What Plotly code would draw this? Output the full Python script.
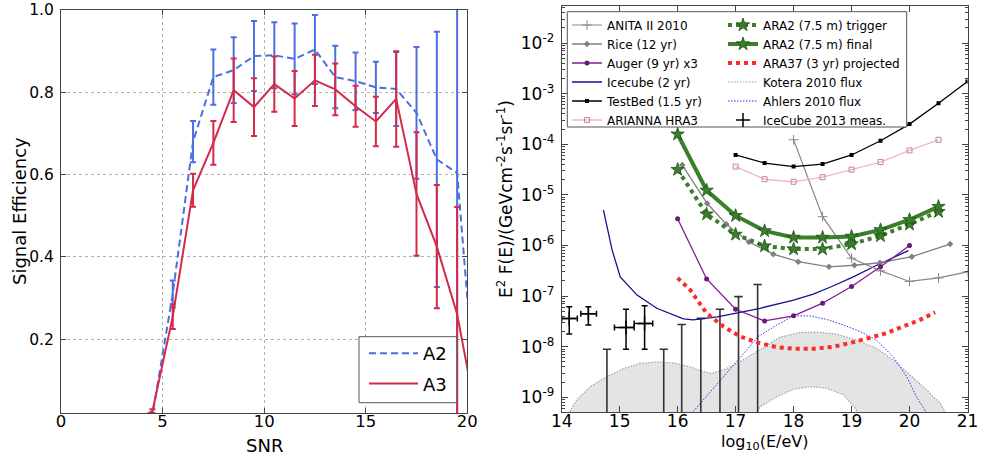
import numpy as np
import plotly.graph_objects as go

# ---------------- Left panel data ----------------
snr = [0.5, 1.5, 2.5, 3.5, 4.5, 5.5, 6.5, 7.5, 8.5, 9.5, 10.5, 11.5, 12.5,
       13.5, 14.5, 15.5, 16.5, 17.5, 18.5, 19.5, 20.5]
a2_eff = [0, 0, 0, 0, 0.015, 0.31, 0.68, 0.837, 0.854, 0.888, 0.89, 0.881, 0.904,
          0.837, 0.827, 0.812, 0.808, 0.75, 0.637, 0.604, 0.0]
a2_err = [0, 0, 0, 0, 0.005, 0.033, 0.05, 0.067, 0.08, 0.085, 0.08, 0.086, 0.084,
          0.076, 0.07, 0.062, 0.09, 0.16, 0.31, 0.6, 0]
a3_eff = [0, 0, 0, 0, 0.025, 0.255, 0.562, 0.677, 0.805, 0.764, 0.82, 0.785, 0.829,
          0.807, 0.766, 0.729, 0.784, 0.553, 0.425, 0.261, 0.0]
a3_err = [0, 0, 0, 0, 0.005, 0.03, 0.04, 0.053, 0.077, 0.07, 0.067, 0.067, 0.062,
          0.063, 0.05, 0.06, 0.116, 0.15, 0.15, 0.26, 0]

# ---------------- Right panel data (x: log10(E/eV), y: log10 of E^2 F(E)) ----------------
anita_e = [18.0, 18.5, 19.0, 19.5, 20.0, 20.5, 21.0]
anita_l = [-3.91, -5.43, -6.25, -6.50, -6.71, -6.64, -6.52]

rice_e = [16.08, 16.51, 16.84, 17.23, 17.65, 18.08, 18.61, 19.05, 19.49, 20.04, 20.7]
rice_l = [-4.41, -5.17, -5.58, -5.93, -6.17, -6.32, -6.42, -6.39, -6.34, -6.22, -5.97]

auger_e = [16.0, 16.5, 17.0, 17.5, 18.0, 18.5, 19.0, 19.5, 20.0]
auger_l = [-5.47, -6.66, -7.26, -7.49, -7.39, -7.14, -6.81, -6.42, -6.00]

icecube_e = [14.72, 14.87, 15.01, 15.3, 15.64, 16.1, 16.27, 16.68, 17.08, 17.42,
             18.0, 18.34, 18.66, 19.03, 19.38, 19.98]
icecube_l = [-5.30, -6.09, -6.62, -6.98, -7.24, -7.45, -7.47, -7.41, -7.32, -7.24,
             -7.08, -6.96, -6.81, -6.62, -6.42, -6.10]

testbed_e = [17.0, 17.5, 18.0, 18.5, 19.0, 19.5, 20.0, 20.5, 21.0]
testbed_l = [-4.21, -4.37, -4.44, -4.39, -4.21, -3.93, -3.60, -3.19, -2.76]

arianna_e = [17.0, 17.5, 18.0, 18.5, 19.0, 19.5, 20.0, 20.5]
arianna_l = [-4.44, -4.69, -4.74, -4.65, -4.50, -4.35, -4.12, -3.91]

ara2_e = [16.0, 16.5, 17.0, 17.5, 18.0, 18.5, 19.0, 19.5, 20.0, 20.5]
ara2_trig_l = [-4.50, -5.38, -5.78, -6.01, -6.07, -6.07, -5.97, -5.81, -5.58, -5.33]
ara2_final_l = [-3.80, -4.91, -5.41, -5.71, -5.84, -5.84, -5.82, -5.69, -5.49, -5.23]

ara37_e = [16.0, 16.22, 16.5, 16.79, 17.08, 17.39, 17.71, 18.0, 18.34, 18.69,
           19.03, 19.32, 19.61, 19.89, 20.18, 20.44]
ara37_l = [-6.64, -6.88, -7.34, -7.60, -7.80, -7.92, -8.01, -8.04, -8.04, -8.00,
           -7.91, -7.83, -7.73, -7.60, -7.47, -7.32]

kotera_hi_e = [14.0, 14.12, 14.26, 14.49, 14.78, 15.07, 15.35, 15.64, 15.93, 16.22,
               16.44, 16.59, 16.85, 17.13, 17.42, 17.77, 18.11, 18.4, 18.74, 19.09,
               19.43, 19.72, 20.01, 20.3, 20.53, 20.64, 20.75]
kotera_hi_l = [-9.6, -9.32, -9.05, -8.79, -8.59, -8.43, -8.33, -8.30, -8.32, -8.40,
               -8.49, -8.53, -8.43, -8.26, -8.06, -7.81, -7.72, -7.71, -7.75, -7.87,
               -8.03, -8.26, -8.56, -8.86, -9.12, -9.32, -9.55]
kotera_lo_e = [17.25, 17.42, 17.71, 18.0, 18.3, 18.57, 18.86, 19.05, 19.25]
kotera_lo_l = [-9.6, -9.19, -8.99, -8.84, -8.79, -8.82, -8.95, -9.2, -9.6]

ahlers_e = [16.27, 16.66, 17.05, 17.39, 17.71, 18.0, 18.28, 18.57, 18.86, 19.15,
            19.43, 19.72, 19.95, 20.12, 20.3]
ahlers_l = [-9.28, -8.77, -8.26, -7.80, -7.57, -7.39, -7.39, -7.46, -7.57, -7.70,
            -7.87, -8.20, -8.59, -8.99, -9.32]

ic13_e = [14.13, 14.46, 15.11, 15.43]
ic13_e_lo = [14.0, 14.33, 14.91, 15.25]
ic13_e_hi = [14.27, 14.6, 15.25, 15.57]
ic13_l = [-7.44, -7.35, -7.62, -7.54]
ic13_l_hi = [-7.21, -7.21, -7.26, -7.19]
ic13_l_lo = [-7.75, -7.57, -8.05, -8.05]

ic13_ul_e = [14.78, 15.76, 16.07, 16.4, 16.73, 17.05, 17.38]
ic13_ul_l = [-8.05, -8.05, -7.56, -7.44, -7.26, -7.01, -6.77]

# tick labels of the flux axis
flux_tickvals = [1e-9, 1e-8, 1e-7, 1e-6, 1e-5, 1e-4, 1e-3, 1e-2]
flux_ticktext = ["10<sup>-9</sup>", "10<sup>-8</sup>", "10<sup>-7</sup>", "10<sup>-6</sup>",
                 "10<sup>-5</sup>", "10<sup>-4</sup>", "10<sup>-3</sup>", "10<sup>-2</sup>"]

FONT = "DejaVu Sans"
W, H = 985, 457


def p(v):
    return 10.0 ** np.asarray(v, dtype=float)


fig = go.Figure()

# ---------------- Left panel ----------------
fig.add_trace(go.Scatter(
    x=snr, y=a2_eff, mode="lines", name="A2", xaxis="x", yaxis="y",
    line=dict(color="#4a6fe0", width=2, dash="7px,4px"),
    error_y=dict(type="data", array=a2_err, color="#4a6fe0", thickness=2, width=3),
    legend="legend3", legendgroup="a2"))
fig.add_trace(go.Scatter(
    x=snr, y=a3_eff, mode="lines", name="A3", xaxis="x", yaxis="y",
    line=dict(color="#d42a48", width=2),
    error_y=dict(type="data", array=a3_err, color="#d42a48", thickness=2, width=3),
    legend="legend3", legendgroup="a3"))

# ---------------- Right panel ----------------
band_x = list(kotera_hi_e) + list(kotera_lo_e[::-1])
band_y = list(p(kotera_hi_l)) + list(p(kotera_lo_l[::-1]))
fig.add_trace(go.Scatter(
    x=band_x, y=band_y, mode="lines", fill="toself", fillcolor="#e4e4e4",
    line=dict(width=0), xaxis="x2", yaxis="y2", showlegend=False, hoverinfo="skip"))
fig.add_trace(go.Scatter(
    x=list(kotera_hi_e) + [None] + list(kotera_lo_e),
    y=list(p(kotera_hi_l)) + [None] + list(p(kotera_lo_l)),
    mode="lines", name="Kotera 2010 flux", xaxis="x2", yaxis="y2",
    line=dict(color="#a0a0a0", width=1.2, dash="1.5px,1.5px"),
    legend="legend2", legendrank=4))
fig.add_trace(go.Scatter(
    x=ahlers_e, y=p(ahlers_l), mode="lines", name="Ahlers 2010 flux",
    xaxis="x2", yaxis="y2", line=dict(color="#3030ff", width=1, dash="1.5px,1.5px"),
    legend="legend2", legendrank=5))

ul_x, ul_y = [], []
for e, l in zip(ic13_ul_e, ic13_ul_l):
    ul_x += [e, e, None]
    ul_y += [1e-10, 10.0 ** l, None]
fig.add_trace(go.Scatter(x=ul_x, y=ul_y, mode="lines", xaxis="x2", yaxis="y2",
                         line=dict(color="#333333", width=1.6), showlegend=False,
                         hoverinfo="skip"))
fig.add_trace(go.Scatter(x=ic13_ul_e, y=p(ic13_ul_l), mode="markers", xaxis="x2", yaxis="y2",
                         marker=dict(symbol="line-ew", size=6,
                                     line=dict(width=1.6, color="#333333")),
                         showlegend=False, hoverinfo="skip"))
ic_y = p(ic13_l)
fig.add_trace(go.Scatter(
    x=ic13_e, y=ic_y, mode="markers", name="IceCube 2013 meas.", xaxis="x2", yaxis="y2",
    marker=dict(symbol="cross-thin", size=10, color="black", line=dict(width=1.5, color="black")),
    error_x=dict(type="data", symmetric=False,
                 array=list(np.array(ic13_e_hi) - np.array(ic13_e)),
                 arrayminus=list(np.array(ic13_e) - np.array(ic13_e_lo)),
                 color="black", thickness=1.5, width=3),
    error_y=dict(type="data", symmetric=False,
                 array=list(p(ic13_l_hi) - ic_y), arrayminus=list(ic_y - p(ic13_l_lo)),
                 color="black", thickness=1.5, width=3),
    legend="legend2", legendrank=6))

fig.add_trace(go.Scatter(
    x=icecube_e, y=p(icecube_l), mode="lines", name="Icecube (2 yr)", xaxis="x2", yaxis="y2",
    line=dict(color="#12128f", width=1.3), legend="legend", legendrank=4))
fig.add_trace(go.Scatter(
    x=anita_e, y=p(anita_l), mode="lines+markers", name="ANITA II 2010", xaxis="x2", yaxis="y2",
    line=dict(color="#888888", width=1.2),
    marker=dict(symbol="cross-thin", size=7, color="#888888", line=dict(width=1, color="#888888")),
    legend="legend", legendrank=1))
fig.add_trace(go.Scatter(
    x=rice_e, y=p(rice_l), mode="lines+markers", name="Rice (12 yr)", xaxis="x2", yaxis="y2",
    line=dict(color="#808080", width=1.3),
    marker=dict(symbol="diamond", size=5, color="#808080"),
    legend="legend", legendrank=2))
fig.add_trace(go.Scatter(
    x=auger_e, y=p(auger_l), mode="lines+markers", name="Auger (9 yr) x3", xaxis="x2", yaxis="y2",
    line=dict(color="#7f1f8f", width=1.3),
    marker=dict(symbol="circle", size=5, color="#6a1a78"),
    legend="legend", legendrank=3))
fig.add_trace(go.Scatter(
    x=testbed_e, y=p(testbed_l), mode="lines+markers", name="TestBed (1.5 yr)", xaxis="x2", yaxis="y2",
    line=dict(color="black", width=1.3),
    marker=dict(symbol="square", size=4, color="black"),
    legend="legend", legendrank=5))
fig.add_trace(go.Scatter(
    x=arianna_e, y=p(arianna_l), mode="lines+markers", name="ARIANNA HRA3", xaxis="x2", yaxis="y2",
    line=dict(color="#f4b6c0", width=1.3),
    marker=dict(symbol="square-open", size=5, color="#c08592", line=dict(width=1)),
    legend="legend", legendrank=6))
fig.add_trace(go.Scatter(
    x=ara37_e, y=p(ara37_l), mode="lines", name="ARA37 (3 yr) projected", xaxis="x2", yaxis="y2",
    line=dict(color="#ff2a2a", width=4, dash="4px,4px"),
    legend="legend2", legendrank=3))
fig.add_trace(go.Scatter(
    x=ara2_e, y=p(ara2_trig_l), mode="lines+markers", name="ARA2 (7.5 m) trigger",
    xaxis="x2", yaxis="y2", line=dict(color="#3a7f2a", width=4, dash="4px,4px"),
    marker=dict(symbol="star", size=10, color="#3a7f2a", line=dict(width=0.8, color="#1e4f16")),
    legend="legend2", legendrank=1))
fig.add_trace(go.Scatter(
    x=ara2_e, y=p(ara2_final_l), mode="lines+markers", name="ARA2 (7.5 m) final",
    xaxis="x2", yaxis="y2", line=dict(color="#3a7f2a", width=4),
    marker=dict(symbol="star", size=10, color="#3a7f2a", line=dict(width=0.8, color="#1e4f16")),
    legend="legend2", legendrank=2))

# ---------------- Layout ----------------
axis_common = dict(showline=True, mirror="ticks", linecolor="#444", linewidth=1,
                   ticks="inside", tickcolor="#444", zeroline=False, automargin=False)

fig.update_layout(
    template="none",
    width=W, height=H, margin=dict(l=0, r=0, t=0, b=0, pad=0, autoexpand=False),
    paper_bgcolor="white", plot_bgcolor="white",
    font=dict(family=FONT, color="black"),
    xaxis=dict(domain=[61 / W, 467.3 / W], anchor="y", range=[0, 20], dtick=5, tick0=0,
               ticklen=5, showgrid=True, gridcolor="#b0b0b0", griddash="dot", gridwidth=1,
               tickfont=dict(family=FONT, size=16.5, color="black"), ticklabelstandoff=-7,
               **axis_common),
    yaxis=dict(domain=[1 - 413.3 / H, 1 - 10 / H], anchor="x", range=[0.02, 1.0], dtick=0.2,
               tick0=0, tickformat=".1f", ticklen=5, showgrid=True, gridcolor="#b0b0b0",
               griddash="dot", gridwidth=1, ticklabelstandoff=3,
               tickfont=dict(family=FONT, size=15.5, color="black"), **axis_common),
    xaxis2=dict(domain=[561.7 / W, 967.5 / W], anchor="y2", range=[14, 21], dtick=1,
                ticklen=6, showgrid=False, ticklabelstandoff=-6,
                tickfont=dict(family=FONT, size=17, color="black"), **axis_common),
    yaxis2=dict(domain=[1 - 412 / H, 1 - 5.7 / H], anchor="x2", type="log",
                range=[-9.29, -1.26], tickmode="array", tickvals=flux_tickvals,
                ticktext=flux_ticktext, ticklen=6, showgrid=False, ticklabelstandoff=3,
                minor=dict(ticks="inside", ticklen=3, tickcolor="#444", dtick="D1"),
                tickfont=dict(family=FONT, size=17, color="black"), **axis_common),
    showlegend=True,
    legend=dict(x=567 / W, y=1 - 10.5 / H, xanchor="left", yanchor="top",
                bgcolor="rgba(0,0,0,0)", borderwidth=0,
                font=dict(family=FONT, size=12), traceorder="normal"),
    legend2=dict(x=723 / W, y=1 - 10.5 / H, xanchor="left", yanchor="top",
                 bgcolor="rgba(0,0,0,0)", borderwidth=0,
                 font=dict(family=FONT, size=12), traceorder="normal"),
    legend3=dict(x=364 / W, y=1 - 335 / H, xanchor="left", yanchor="top",
                 bgcolor="rgba(0,0,0,0)", borderwidth=0,
                 font=dict(family=FONT, size=18), itemwidth=49, tracegroupgap=4,
                 traceorder="grouped"),
    shapes=[dict(type="rect", xref="paper", yref="paper",
                 x0=567.3 / W, x1=906.7 / W, y0=1 - 127 / H, y1=1 - 11.7 / H,
                 line=dict(color="#555", width=1), fillcolor="white", layer="above"),
            dict(type="rect", xref="paper", yref="paper",
                 x0=359 / W, x1=456.7 / W, y0=1 - 402.7 / H, y1=1 - 336.7 / H,
                 line=dict(color="#555", width=1), fillcolor="white", layer="above")],
    annotations=[
        dict(text="Signal Efficiency", xref="paper", yref="paper", x=19 / W, y=1 - 211 / H,
             textangle=-90, showarrow=False, font=dict(size=18), xanchor="center", yanchor="middle"),
        dict(text="SNR", xref="paper", yref="paper", x=264 / W, y=1 - 445 / H,
             showarrow=False, font=dict(size=18), xanchor="center", yanchor="middle"),
        dict(text="log<sub>10</sub>(E/eV)", xref="paper", yref="paper", x=764 / W, y=1 - 442 / H,
             showarrow=False, font=dict(size=16), xanchor="center", yanchor="middle"),
        dict(text="E<sup>2</sup> F(E)/(GeVcm<sup>-2</sup>s<sup>-1</sup>sr<sup>-1</sup>)",
             xref="paper", yref="paper", x=505 / W, y=1 - 199 / H, textangle=-90,
             showarrow=False, font=dict(size=17), xanchor="center", yanchor="middle"),
    ],
)

fig.write_html("out.html")
